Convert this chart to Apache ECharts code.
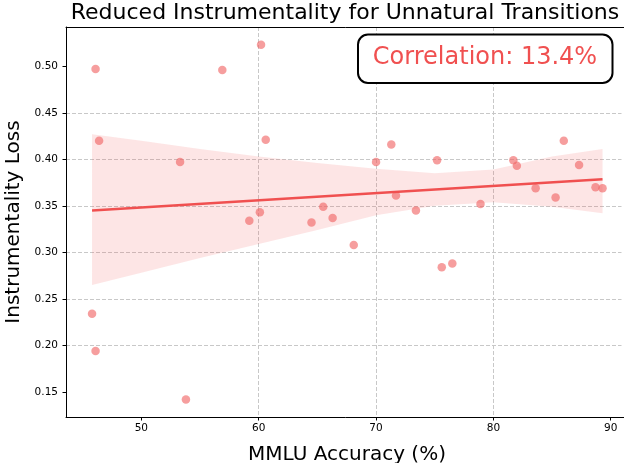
<!DOCTYPE html>
<html>
<head>
<meta charset="utf-8">
<script src="https://cdn.jsdelivr.net/npm/echarts@6/dist/echarts.min.js"></script>
<style>html,body{margin:0;padding:0;background:#fff;overflow:hidden}#c{width:624px;height:463px}</style>
</head>
<body>
<div id="c"></div>
<script>
const mmlu = [45.8, 46.1, 46.1, 46.4, 53.3, 53.8, 56.9, 59.2, 60.1, 60.2, 60.6, 64.5, 65.5, 66.3, 68.1, 70.0, 71.3, 71.7, 73.4, 75.2, 75.6, 76.5, 78.9, 81.7, 82.0, 83.6, 85.3, 86.0, 87.3, 88.7, 89.3];
const loss = [0.234, 0.194, 0.497, 0.420, 0.397, 0.142, 0.496, 0.334, 0.343, 0.523, 0.421, 0.332, 0.349, 0.337, 0.308, 0.397, 0.416, 0.361, 0.345, 0.399, 0.284, 0.288, 0.352, 0.399, 0.393, 0.369, 0.359, 0.420, 0.394, 0.370, 0.369];
const fitX = [45.8, 89.3];
const fitY = [0.345, 0.3786];
const bandX = [45.8, 50, 55, 60, 65, 70, 75, 80, 85, 89.3];
const bandUpper = [0.427, 0.420, 0.411, 0.403, 0.396, 0.390, 0.385, 0.389, 0.403, 0.411];
const bandLower = [0.265, 0.278, 0.294, 0.309, 0.324, 0.340, 0.350, 0.354, 0.349, 0.342];
const xTicks = [50, 60, 70, 80, 90];
const yTicks = [0.15, 0.20, 0.25, 0.30, 0.35, 0.40, 0.45, 0.50];
const titleText = 'Reduced Instrumentality for Unnatural Transitions';
const corrText = 'Correlation: 13.4%';

const FONT = 'DejaVu Sans';
const RED = '#f05050';
const X_MIN = 43.58, X_MAX = 91.47, Y_MIN = 0.1231, Y_MAX = 0.5422;
const chart = echarts.init(document.getElementById('c'), null, {renderer: 'canvas'});
const grid = {left: 66, top: 27, width: 562, height: 390};
const gridLine = {show: true, showMinLine: false, showMaxLine: false,
  lineStyle: {color: '#c8c8c8', width: 1, type: [4, 2]}};

chart.setOption({
  animation: false,
  backgroundColor: '#fff',
  grid: Object.assign({show: false, borderWidth: 0, borderColor: 'rgba(0,0,0,0)',
    containLabel: false, outerBoundsMode: 'none'}, grid),
  xAxis: [{
    type: 'value', min: X_MIN, max: X_MAX,
    name: 'MMLU Accuracy (%)', nameLocation: 'middle', nameGap: 28,
    nameTextStyle: {fontFamily: FONT, fontSize: 20, color: '#000'},
    axisLine: {show: true, onZero: false, lineStyle: {color: '#000', width: 1}},
    axisTick: {show: true, length: 3.5, lineStyle: {color: '#000'}, customValues: xTicks},
    axisLabel: {fontFamily: FONT, fontSize: 10.5, color: '#000', margin: 6, customValues: xTicks},
    splitLine: gridLine
  }, {
    type: 'value', position: 'top', min: X_MIN, max: X_MAX,
    axisLine: {show: true, onZero: false, lineStyle: {color: '#000', width: 1}},
    axisTick: {show: false}, axisLabel: {show: false}, splitLine: {show: false}
  }],
  yAxis: {
    type: 'value', min: Y_MIN, max: Y_MAX,
    name: 'Instrumentality Loss', nameLocation: 'middle', nameGap: 38, nameRotate: 90,
    nameTextStyle: {fontFamily: FONT, fontSize: 20, color: '#000'},
    axisLine: {show: true, onZero: false, lineStyle: {color: '#000', width: 1}},
    axisTick: {show: true, length: 3.5, lineStyle: {color: '#000'}, customValues: yTicks},
    axisLabel: {fontFamily: FONT, fontSize: 10.5, color: '#000', margin: 8, customValues: yTicks,
      formatter: v => v.toFixed(2)},
    splitLine: gridLine
  },
  series: [
    {
      type: 'custom', silent: true, z: 1,
      data: [0],
      renderItem: function (params, api) {
        const pts = [];
        for (let i = 0; i < bandX.length; i++) pts.push(api.coord([bandX[i], bandUpper[i]]));
        for (let i = bandX.length - 1; i >= 0; i--) pts.push(api.coord([bandX[i], bandLower[i]]));
        return {type: 'polygon', shape: {points: pts}, style: {fill: 'rgba(240,80,80,0.15)', stroke: null}};
      }
    },
    {
      type: 'scatter', symbolSize: 8.5, z: 3,
      itemStyle: {color: 'rgba(240,100,100,0.78)'},
      data: mmlu.map((x, i) => [x, loss[i]])
    },
    {
      type: 'line', symbol: 'none', z: 4,
      lineStyle: {color: RED, width: 2.5},
      data: fitX.map((x, i) => [x, fitY[i]])
    }
  ],
  graphic: [
    {type: 'rect', z: 100, silent: true,
      shape: {x: 621.5, y: 28, width: 4, height: 388.5},
      style: {fill: '#fff'}},
    {type: 'text', z: 10,
      style: {x: 345, y: 13, text: titleText, font: '22px "DejaVu Sans"', fill: '#000', align: 'center', verticalAlign: 'middle'}},
    {type: 'rect', z: 10,
      shape: {x: 358, y: 34.5, width: 254.5, height: 48.5, r: 10},
      style: {fill: '#fff', stroke: '#000', lineWidth: 2}},
    {type: 'text', z: 11,
      style: {x: 485, y: 58, text: corrText, font: '24px "DejaVu Sans"', fill: RED, align: 'center', verticalAlign: 'middle'}}
  ]
});
</script>
</body>
</html>
